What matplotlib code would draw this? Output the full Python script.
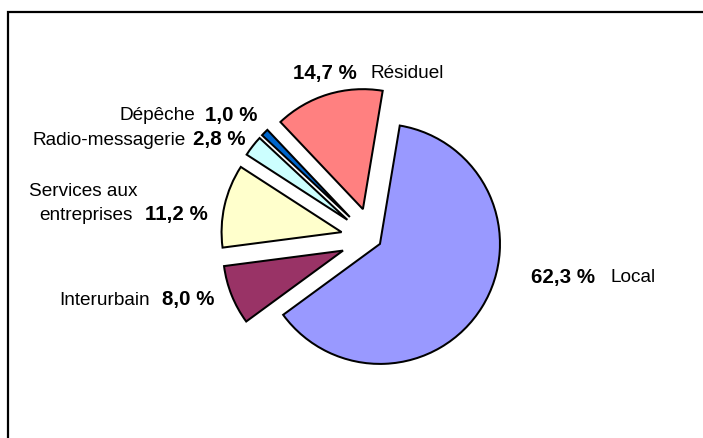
import matplotlib
matplotlib.use("Agg")
import matplotlib.pyplot as plt
from matplotlib.patches import Rectangle

plt.rcParams['font.family'] = ['Liberation Sans', 'DejaVu Sans']

# Data
categories = ["Local", "Interurbain", "Services aux\nentreprises", "Radio-messagerie", "Dépêche", "Résiduel"]
shares = [62.3, 8.0, 11.2, 2.8, 1.0, 14.7]
share_labels = ["62,3 %", "8,0 %", "11,2 %", "2,8 %", "1,0 %", "14,7 %"]
colors = ["#9999FF", "#993366", "#FFFFCC", "#CCFFFF", "#0066CC", "#FF8080"]
explode = [0.078, 0.26, 0.26, 0.26, 0.26, 0.26]

W, H = 703, 438
fig = plt.figure(figsize=(W / 100, H / 100), dpi=100)
ax = fig.add_axes([0, 0, 1, 1])

# pie geometry in pixel units (radius 120 px, centre at (372, 239) from top-left)
R = 120.0
cx, cy = 372.0, 239.0
ax.pie(shares, explode=explode, colors=colors, startangle=80.5, counterclock=False,
       radius=1, center=(0, 0), normalize=True,
       wedgeprops=dict(edgecolor='black', linewidth=1.45, joinstyle='miter'))
ax.set_xlim((0 - cx) / R, (W - cx) / R)
ax.set_ylim(-(H - cy) / R, cy / R)
ax.set_aspect('auto')
ax.axis('off')

# frame (only top and left edges visible)
fig.patches.append(Rectangle((8 / W, -0.2), 1.5, 1 - 11.5 / H + 0.2, transform=fig.transFigure,
                             fill=False, edgecolor='black', linewidth=1.6))

FS_REG = 13.7
FS_BOLD = 14.8

def put(x, y, s, bold=False):
    fig.text(x / W, 1 - y / H, s, fontsize=FS_BOLD if bold else FS_REG,
             fontweight='bold' if bold else 'normal',
             ha='left', va='baseline', color='black')

# Résiduel
put(293, 78.5, share_labels[5], True)
put(371, 78.5, "Résiduel")
# Dépêche
put(119, 120.5, "Dépêche")
put(205, 120.5, share_labels[4], True)
# Radio-messagerie
put(33, 145, "Radio-messagerie")
put(193, 145, share_labels[3], True)
# Services aux entreprises
put(29, 196, "Services aux")
put(39, 220, "entreprises")
put(145, 220, share_labels[2], True)
# Interurbain
put(59, 305, "Interurbain")
put(162, 305, share_labels[1], True)
# Local
put(531, 282.5, share_labels[0], True)
put(610, 282.5, "Local")

fig.savefig("out.png", dpi=100, facecolor='white')
